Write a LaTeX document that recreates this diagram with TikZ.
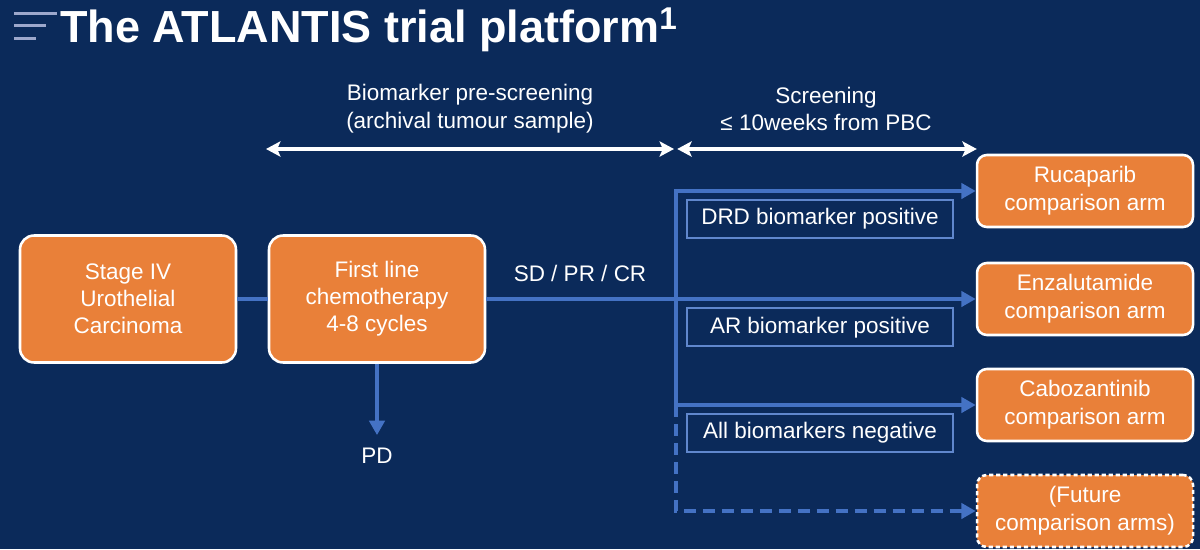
\documentclass[tikz,border=0pt]{standalone}
\usepackage{fontspec}
\setmainfont{Liberation Sans}
\usetikzlibrary{arrows.meta}
\definecolor{navy}{HTML}{0B2A5A}
\definecolor{armfill}{HTML}{E98039}
\definecolor{link}{HTML}{4472C4}
\definecolor{menu}{HTML}{9DA8CC}

\begin{document}
\begin{tikzpicture}[
  x=1cm,y=1cm,
  flow/.style={-{Triangle[length=3.6mm,width=3.8mm]}, draw=link,
    line width=2.8pt},
  span/.style={{Stealth[length=3.6mm,width=3.8mm,inset=0.8mm]}-{Stealth[length=3.6mm,width=3.8mm,inset=0.8mm]},
    draw=white, line width=2.6pt},
  stagebox/.style={draw=white, fill=armfill, rounded corners=10pt,
    line width=1.8pt, minimum width=5.4cm, minimum height=3.175cm,
    align=center, text=white, font=\fontsize{16}{19.3}\selectfont},
  armbox/.style={draw=white, fill=armfill, rounded corners=7pt,
    line width=1.8pt, minimum width=5.4cm, minimum height=1.8cm,
    align=center, text=white, font=\fontsize{16}{19.8}\selectfont},
  tagbox/.style={draw=link!85!white, fill=navy, line width=1.4pt,
    minimum width=6.65cm, minimum height=0.95cm, text=white,
    font=\fontsize{16}{19.5}\selectfont},
  plain/.style={text=white, align=center,
    font=\fontsize{16}{19.8}\selectfont}
]

% Background and fixed page size.
\fill[navy] (0,0) rectangle (30,13.725);
\useasboundingbox (0,0) rectangle (30,13.725);

% Title with menu mark.
\foreach \y/\len in {13.39/1.425, 13.08/1.15, 12.76/0.9}
  \draw[menu, line width=2.4pt] (0.35,\y) -- (\len,\y);
\node[anchor=base west, inner sep=0pt, text=white,
  font=\bfseries\fontsize{32}{38}\selectfont] (title) at (1.5,12.675)
  {The ATLANTIS trial platform\textsuperscript{1}};

% Phase spans.
\node[plain] (prescreen) at (11.75,11.0)
  {Biomarker pre-screening\\(archival tumour sample)};
\node[plain] (screen) at (20.65,11.0)
  {Screening\\≤ 10weeks from PBC};
\coordinate (preL) at (6.65,10.0);
\coordinate (preR) at (16.85,10.0);
\coordinate (scrL) at (16.93,10.0);
\coordinate (scrR) at (24.42,10.0);
\draw[span] (preL) -- (preR);
\draw[span] (scrL) -- (scrR);

% Main pathway.
\node[stagebox] (stage) at (3.2,6.25)
  {Stage IV\\Urothelial\\Carcinoma};
\node[stagebox] (firstline) at (9.425,6.25)
  {First line\\chemotherapy\\4-8 cycles};
\node[plain] (pd) at (9.425,2.33) {PD};
\node[plain] (response) at (14.5,6.9) {SD / PR / CR};

% Comparison arms.
\node[armbox] (ruca) at (27.125,8.95) {Rucaparib\\comparison arm};
\node[armbox] (enza) at (27.125,6.25) {Enzalutamide\\comparison arm};
\node[armbox] (cabo) at (27.125,3.6) {Cabozantinib\\comparison arm};
\node[armbox, dashed, dash pattern=on 3pt off 2pt] (future)
  at (27.125,0.95) {(Future\\comparison arms)};

% Biomarker tags.
\node[tagbox] (drd) at (20.5,8.25) {DRD biomarker positive};
\node[tagbox] (ar) at (20.5,5.54) {AR biomarker positive};
\node[tagbox] (allneg) at (20.5,2.9) {All biomarkers negative};

% Connectors.
\coordinate (split) at (16.9,6.25);
\draw[draw=link, line width=2.8pt] (stage) -- (firstline);
\draw[flow, shorten >=0.2cm] (firstline.south) -- (pd.north);
\draw[flow] (firstline) -- (enza);
\draw[flow] (split) |- (ruca);
\draw[flow] (split) |- (cabo);
\draw[flow, dash pattern=on 8.5pt off 5pt] (split |- cabo) |- (future);

\end{tikzpicture}
\end{document}
